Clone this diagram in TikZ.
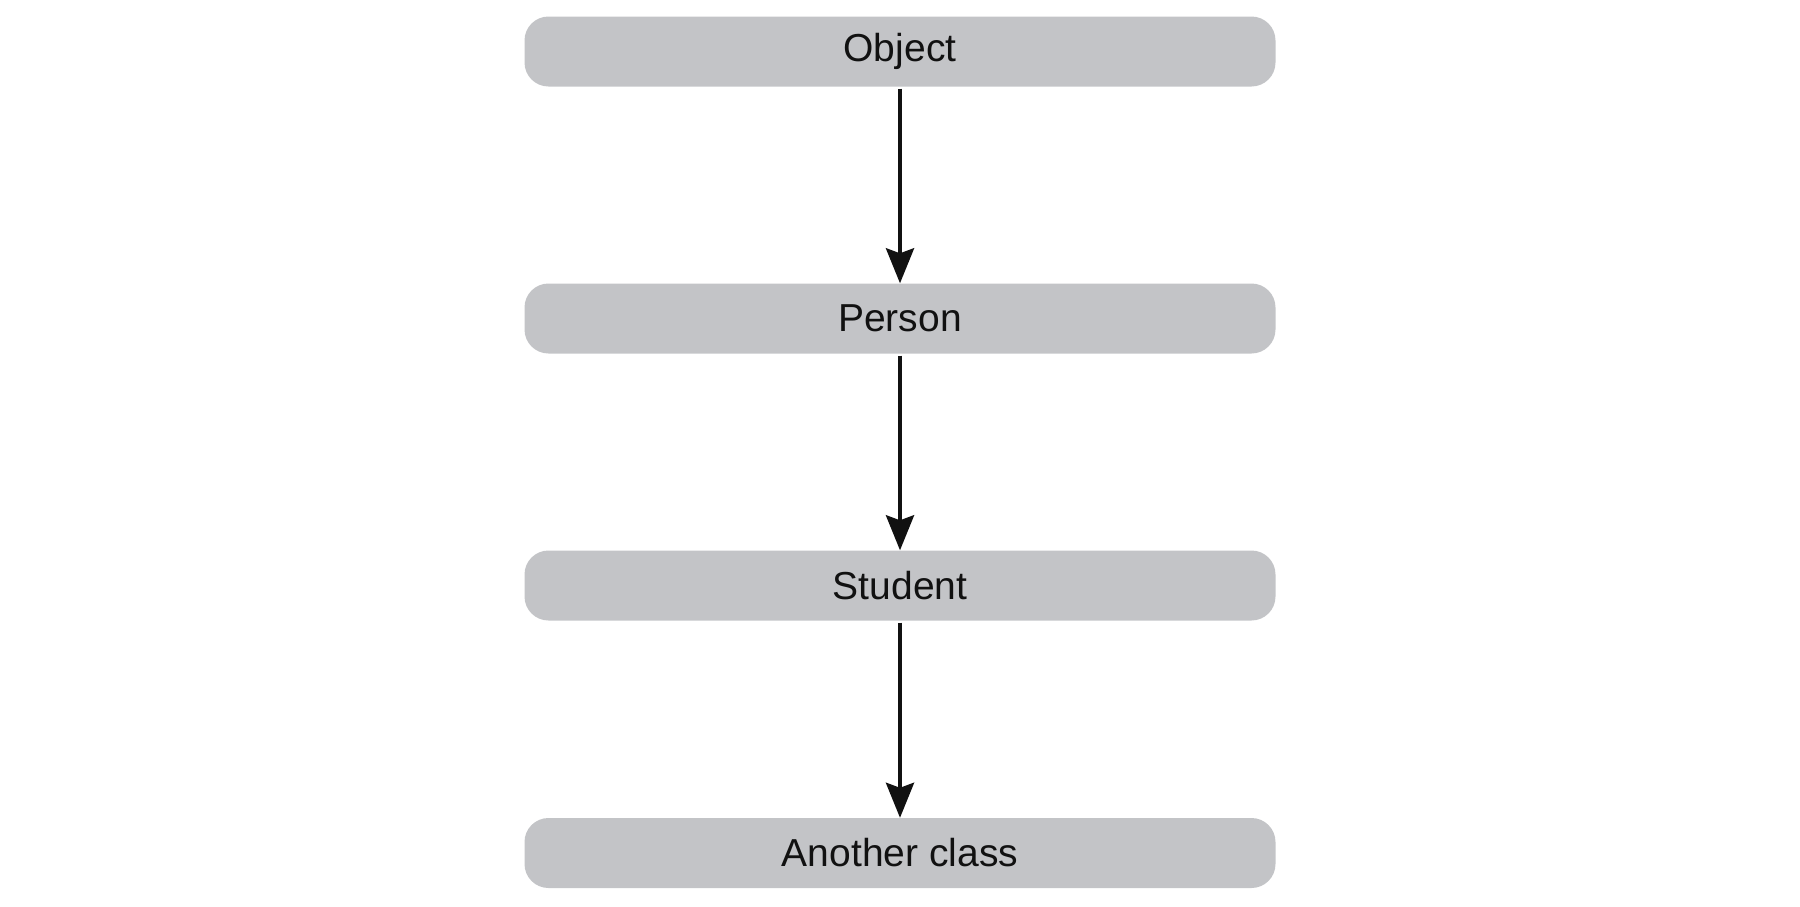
\documentclass[tikz,border=0pt]{standalone}
\usepackage{fontspec}
\setmainfont{Liberation Sans}
\usetikzlibrary{arrows.meta}
\definecolor{boxgray}{HTML}{C3C4C7}
\definecolor{ink}{HTML}{111111}
\begin{document}
\begin{tikzpicture}[x=1pt,y=-1pt,
  classbox/.style={fill=boxgray, draw=none, rounded corners=24pt,
    minimum width=751pt, minimum height=70pt, inner sep=0pt,
    text=ink, font=\fontsize{39pt}{47pt}\selectfont},
  inherit/.style={draw=ink, line width=4pt, shorten <=2pt,
    -{Stealth[length=35pt, width=28pt, inset=5pt]}}]
\useasboundingbox (0,0) rectangle (1800,906);
\node[classbox] (object)  at (900,51.5)  {Object};
\node[classbox] (person)  at (900,318.5) {Person};
\node[classbox] (student) at (900,585.5) {Student};
\node[classbox] (another) at (900,853)   {Another class};
\draw[inherit] (object) -- (person);
\draw[inherit] (person) -- (student);
\draw[inherit] (student) -- (another);
\end{tikzpicture}
\end{document}
